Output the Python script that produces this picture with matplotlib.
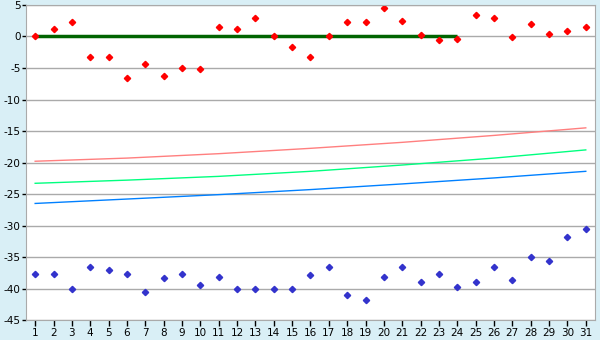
import numpy as np
import matplotlib.pyplot as plt

days = np.arange(1, 32)

# red points (upper series)
red_vals = [0, 1.2, 2.3, -3.3, -3.3, -6.6, -4.4, -6.3, -5.0, -5.2,
            1.5, 1.2, 2.9, 0, -1.7, -3.3, 0, 2.3, 2.3, 4.5,
            2.5, 0.2, -0.6, -0.4, 3.4, 2.9, -0.1, 2.0, 0.4, 0.9, 1.5]

# blue points (lower series)
blue_vals = [-37.7, -37.7, -40.0, -36.6, -37.1, -37.7, -40.5, -38.4, -37.7, -39.4,
             -38.2, -40.0, -40.0, -40.0, -40.0, -37.9, -36.6, -41.1, -41.8, -38.2,
             -36.6, -38.9, -37.7, -39.7, -39.0, -36.6, -38.7, -35.0, -35.6, -31.8, -30.5]

# smooth curves, read at a few days
curve_days = [1, 6, 11, 16, 21, 26, 31]
red_curve = [-19.8, -19.3, -18.6, -17.75, -16.8, -15.7, -14.5]
green_curve = [-23.3, -22.8, -22.2, -21.4, -20.4, -19.3, -18.0]
blue_curve = [-26.5, -25.8, -25.1, -24.3, -23.4, -22.45, -21.4]

# thick zero line
zero_days = [1, 24]
zero_vals = [0, 0]

plt.rcParams['font.family'] = ['DejaVu Sans']
plt.rcParams['axes.unicode_minus'] = False
fig = plt.figure(figsize=(6, 3.4), dpi=100)
fig.patch.set_facecolor('#D9EFF6')
ax = fig.add_axes([0.0433, 0.0588, 0.9483, 0.9265])
ax.set_facecolor('white')

ax.plot(curve_days, red_curve, color='#FF7F7F', lw=1)
ax.plot(curve_days, green_curve, color='#00FF7F', lw=1)
ax.plot(curve_days, blue_curve, color='#0080FF', lw=1)
ax.plot(zero_days, zero_vals, color='#006400', lw=2.5, solid_capstyle='butt')
ax.plot(days, red_vals, 'D', color='red', ms=3.2, ls='none')
ax.plot(days, blue_vals, 'D', color='#3333CC', ms=3.2, ls='none')

ax.set_xlim(0.5, 31.5)
ax.set_ylim(-45, 5)
ax.set_xticks(days)
ax.set_yticks(np.arange(-45, 6, 5))
ax.yaxis.grid(True, color='#AAAAAA', lw=1)
ax.set_axisbelow(True)
for s in ax.spines.values():
    s.set_color('#AAAAAA')
ax.tick_params(axis='x', labelsize=7.5, colors='#000000', length=4, width=1, pad=2)
ax.tick_params(axis='y', labelsize=7.5, colors='#000000', length=3, width=1, pad=1)

fig.savefig('out.png', dpi=100, facecolor=fig.get_facecolor())
